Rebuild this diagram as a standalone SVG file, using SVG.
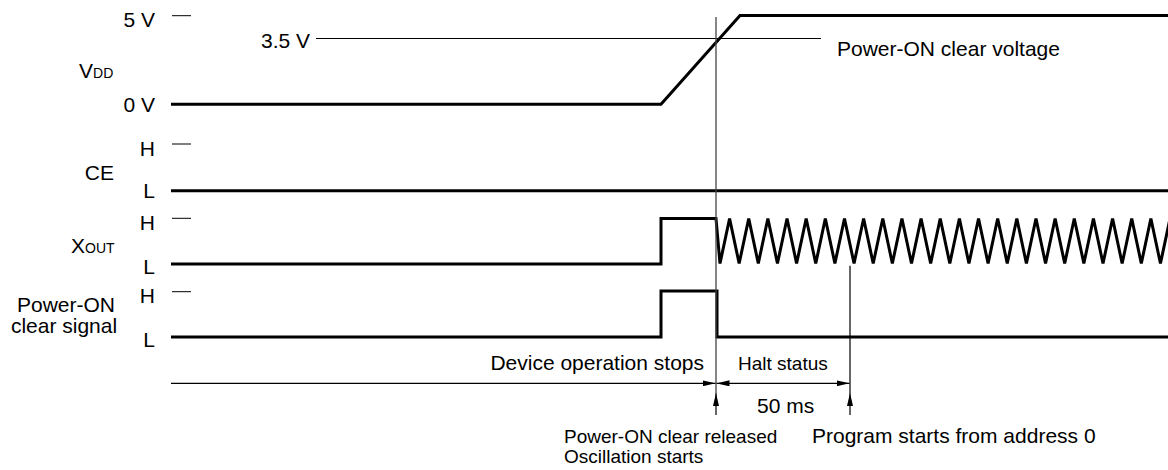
<svg xmlns="http://www.w3.org/2000/svg" width="1168" height="470" viewBox="0 0 1168 470">
<style>
text{font-family:"Liberation Sans",Arial,sans-serif;fill:#000;font-size:21px}
.sm{font-size:19px}
.sub{font-size:14px}
.sig{fill:none;stroke:#000;stroke-width:3;stroke-linejoin:miter}
.thin{fill:none;stroke:#000;stroke-width:1.2}
.guide{fill:none;stroke:#444;stroke-width:1.3}
.tick{fill:none;stroke:#000;stroke-width:1}
</style>
<defs>
<marker id="ah" viewBox="0 0 13 6" refX="13" refY="3" markerWidth="13" markerHeight="6" orient="auto-start-reverse" markerUnits="userSpaceOnUse">
<path d="M0,0 L13,3 L0,6 z" fill="#000"/>
</marker>
</defs>
<rect width="1168" height="470" fill="#fff"/>

<g id="vdd">
<text x="155" y="27" text-anchor="end">5 V</text>
<text x="310" y="47.7" text-anchor="end">3.5 V</text>
<text x="79" y="78">V<tspan class="sub">DD</tspan></text>
<text x="155" y="111.7" text-anchor="end">0 V</text>
<line class="tick" x1="172" y1="15.7" x2="191" y2="15.7"/>
<polyline class="sig" points="171,104.3 661,104.3 740,15.5 1168,15.5"/>
<line class="thin" x1="316" y1="38.5" x2="821" y2="38.5"/>
<text x="837" y="55.7">Power-ON clear voltage</text>
</g>

<g id="ce">
<text x="155" y="156" text-anchor="end">H</text>
<text x="114" y="180" text-anchor="end">CE</text>
<text x="155" y="198" text-anchor="end">L</text>
<line class="tick" x1="172" y1="144" x2="191" y2="144"/>
<line class="sig" x1="171" y1="190.7" x2="1168" y2="190.7"/>
</g>

<g id="xout">
<text x="155" y="230" text-anchor="end">H</text>
<text x="71" y="253">X<tspan class="sub">OUT</tspan></text>
<text x="155" y="274" text-anchor="end">L</text>
<line class="tick" x1="172" y1="218.3" x2="191" y2="218.3"/>
<polyline class="sig" points="171,264 661,264 661,218.5 716,218.5 720,263.5 729.58,218.5 739.15,263.5 748.73,218.5 758.3,263.5 767.88,218.5 777.45,263.5 787.03,218.5 796.6,263.5 806.18,218.5 815.75,263.5 825.33,218.5 834.9,263.5 844.48,218.5 854.05,263.5 863.63,218.5 873.2,263.5 882.78,218.5 892.35,263.5 901.93,218.5 911.5,263.5 921.08,218.5 930.65,263.5 940.23,218.5 949.8,263.5 959.38,218.5 968.95,263.5 978.53,218.5 988.1,263.5 997.68,218.5 1007.25,263.5 1016.83,218.5 1026.4,263.5 1035.98,218.5 1045.55,263.5 1055.13,218.5 1064.7,263.5 1074.28,218.5 1083.85,263.5 1093.43,218.5 1103,263.5 1112.58,218.5 1122.15,263.5 1131.73,218.5 1141.3,263.5 1150.88,218.5 1160.45,263.5 1170.03,218.5"/>
</g>

<g id="poc">
<text x="155" y="303" text-anchor="end">H</text>
<text x="66" y="312" text-anchor="middle">Power-ON</text>
<text x="64" y="333" text-anchor="middle">clear signal</text>
<text x="155" y="347" text-anchor="end">L</text>
<line class="tick" x1="172" y1="291.7" x2="191" y2="291.7"/>
<polyline class="sig" points="171,337 661,337 661,291 717,291 717,337 1168,337"/>
</g>

<g id="connectors">
<line class="guide" x1="716" y1="17" x2="716" y2="393"/>
<line class="thin" x1="716" y1="415" x2="716" y2="393" marker-end="url(#ah)"/>
<line class="thin" x1="850" y1="265.7" x2="850" y2="393"/>
<line class="thin" x1="850" y1="415" x2="850" y2="393" marker-end="url(#ah)"/>
<line class="thin" x1="171" y1="383.3" x2="715.5" y2="383.3" marker-end="url(#ah)"/>
<line class="thin" x1="716.5" y1="383.3" x2="849.5" y2="383.3" marker-start="url(#ah)" marker-end="url(#ah)"/>
</g>

<g id="labels">
<text x="704" y="370" text-anchor="end">Device operation stops</text>
<text x="738" y="370" class="sm">Halt status</text>
<text x="757" y="413">50 ms</text>
<text x="564" y="443" class="sm">Power-ON clear released</text>
<text x="564" y="463" class="sm">Oscillation starts</text>
<text x="812" y="443">Program starts from address 0</text>
</g>
</svg>
